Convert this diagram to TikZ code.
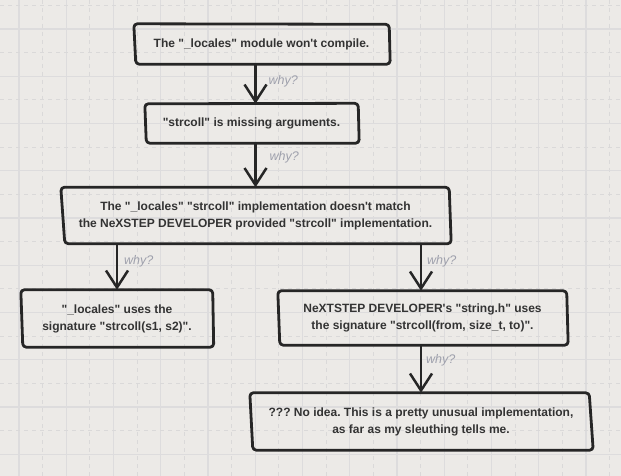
\documentclass[tikz,border=0pt]{standalone}
\usepackage{fontspec}
\setmainfont{Liberation Sans}
\usetikzlibrary{arrows.meta,calc}
\frenchspacing
\definecolor{bg}{RGB}{236,234,231}
\definecolor{gridsolid}{RGB}{221,220,221}
\definecolor{griddash}{RGB}{218,217,217}
\definecolor{ink}{RGB}{38,38,38}
\definecolor{txt}{RGB}{51,51,51}
\definecolor{whyc}{RGB}{158,160,172}
\newcommand{\dq}{\textquotedbl}
\newcommand{\sq}{\textquotesingle}
\newcommand{\skbox}[9]{%
  \draw[boxline] ([shift={(#2,#3)}]#1.north west) -- ([shift={(#4,#5)}]#1.north east) -- ([shift={(#6,#7)}]#1.south east) -- ([shift={(#8,#9)}]#1.south west) -- cycle;}
\tikzset{
  box/.style={inner sep=0pt, align=center, text=txt, font=\fontsize{12}{17}\selectfont\bfseries\frenchspacing},
  boxline/.style={draw=ink, line width=2.8pt, rounded corners=3.5pt, line join=round},
  arr/.style={draw=ink, line width=2.5pt, -{Straight Barb[length=17pt,width=22pt,line width=2.5pt]}},
  why/.style={anchor=west, inner sep=0pt, text=whyc, font=\fontsize{12.5}{14}\selectfont\itshape},
}
\begin{document}
\begin{tikzpicture}[x=1pt,y=-1pt]
\useasboundingbox (0,0) rectangle (621,476);
\fill[bg] (0,0) rectangle (621,476);
% grid
\foreach \i in {0,...,13} {
  \draw[gridsolid, line width=1.1pt] ({19+47.25*\i},0) -- ({19+47.25*\i},476);
  \draw[griddash, line width=1.1pt, dash pattern=on 4pt off 4pt] ({42.6+47.25*\i},0) -- ({42.6+47.25*\i},476);
}
\foreach \i in {0,...,10} {
  \draw[gridsolid, line width=1.1pt] (0,{29+47.25*\i}) -- (621,{29+47.25*\i});
  \draw[griddash, line width=1.1pt, dash pattern=on 4pt off 4pt] (0,{5.4+47.25*\i}) -- (621,{5.4+47.25*\i});
}
% nodes
\node[box, minimum width=255pt, minimum height=40pt] (n1) at (261.5,44) {The \dq\_locales\dq{} module won\sq{}t compile.};
\node[box, minimum width=213pt, minimum height=39pt] (n2) at (251.5,123.5) {\dq strcoll\dq{} is missing arguments.};
\node[box, minimum width=389pt, minimum height=56pt] (n3) at (255.5,215.5) {The \dq\_locales\dq{} \dq strcoll\dq{} implementation doesn\sq{}t match\\the NeXSTEP DEVELOPER provided \dq strcoll\dq{} implementation.};
\node[box, minimum width=192pt, minimum height=57pt] (n4) at (117,318.5) {\dq\_locales\dq{} uses the\\signature \dq strcoll(s1, s2)\dq.};
\node[box, minimum width=289pt, minimum height=54pt] (n5) at (422.5,318) {NeXTSTEP DEVELOPER\sq s \dq string.h\dq{} uses\\the signature \dq strcoll(from, size\_t, to)\dq.};
\node[box, minimum width=342pt, minimum height=57pt] (n6) at (421,421.5) {??? No idea. This is a pretty unusual implementation,\\as far as my sleuthing tells me.};
% sketchy outlines
\skbox{n1}{0}{0}{0}{0.5}{1}{0}{2}{0}
\skbox{n2}{0}{0}{0}{-0.5}{1}{0}{1.5}{0}
\skbox{n3}{0}{0}{-1}{0}{1}{0}{4}{0}
\skbox{n4}{0}{0}{-0.5}{0}{0.5}{0}{2}{0}
\skbox{n5}{0}{0}{-0.5}{0}{1}{0}{2}{0}
\skbox{n6}{0}{0}{-3}{0}{1}{0}{3}{0}
% connectors
\draw[arr] (n1.south -| n3.north) -- (n2.north -| n3.north);
\draw[arr] (n2.south -| n3.north) -- (n3.north);
\draw[arr] (n3.south -| n4.north) -- (n4.north);
\draw[arr] (n3.south -| n6.north) -- (n5.north -| n6.north);
\draw[arr] (n5.south -| n6.north) -- (n6.north);
% labels
\node[why] (w1) at ($(n1.south -| n3.north)+(13,17)$) {why?};
\node[why] (w2) at ($(n2.south -| n3.north)+(14,14)$) {why?};
\node[why] (w3) at ($(n3.south -| n4.north)+(7,18)$) {why?};
\node[why] (w4) at ($(n3.south -| n6.north)+(6,18)$) {why?};
\node[why] (w5) at ($(n5.south -| n6.north)+(5,15)$) {why?};
\end{tikzpicture}
\end{document}
